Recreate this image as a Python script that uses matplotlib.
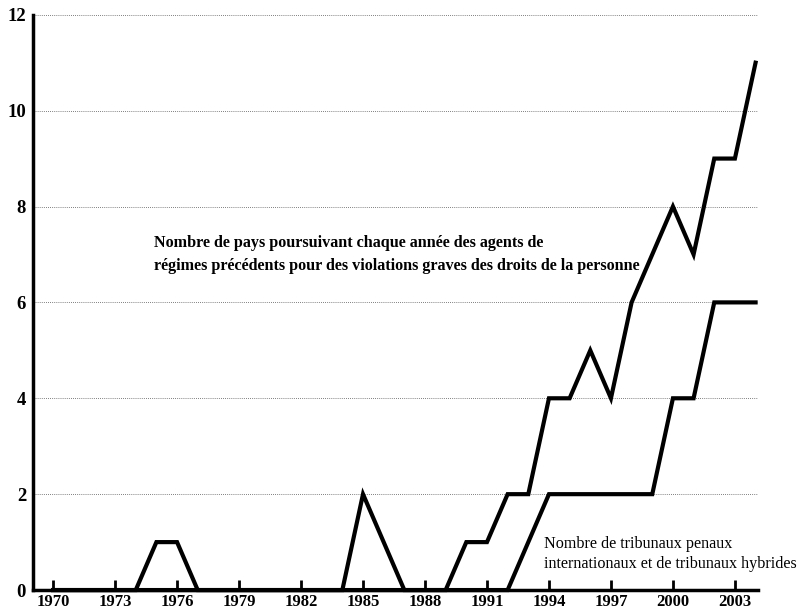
import matplotlib
matplotlib.use("Agg")
import matplotlib.pyplot as plt

# data
years = list(range(1970, 2005))
pays = [0, 0, 0, 0, 0, 1, 1, 0, 0, 0, 0, 0, 0, 0, 0, 2, 1, 0, 0, 0,
        1, 1, 2, 2, 4, 4, 5, 4, 6, 7, 8, 7, 9, 9, 11]
tribunaux = [0] * 22 + [0, 1, 2, 2, 2, 2, 2, 2, 4, 4, 6, 6, 6]
xticks = list(range(1970, 2004, 3))
yticks = [0, 2, 4, 6, 8, 10, 12]

label_pays = ("Nombre de pays poursuivant chaque année des agents de\n"
              "régimes précédents pour des violations graves des droits de la personne")
label_trib = ("Nombre de tribunaux penaux\n"
              "internationaux et de tribunaux hybrides")

plt.rcParams['font.family'] = ['Liberation Serif', 'DejaVu Serif']

fig = plt.figure(figsize=(8.06, 6.14), dpi=100)
ax = fig.add_axes([0.041, 0.039, 0.899, 0.937])

for y in yticks[1:]:
    ax.axhline(y, color='#555555', lw=0.6, ls=(0, (1, 1.5)), zorder=1)

ax.plot(years, pays, color='black', lw=3, solid_joinstyle='miter', clip_on=False, zorder=3)
ax.plot(years, tribunaux, color='black', lw=3, solid_joinstyle='miter', clip_on=False, zorder=3)

ax.set_xlim(1969.03, 2004.1)
ax.set_ylim(0, 12)
ax.set_xticks(xticks)
ax.set_yticks(yticks)
ax.tick_params(axis='x', direction='in', length=7, width=2, labelsize=12, pad=3)
ax.tick_params(axis='y', length=0, labelsize=13.5, pad=5)
for lab in ax.get_xticklabels() + ax.get_yticklabels():
    lab.set_fontweight('bold')

for s in ['top', 'right']:
    ax.spines[s].set_visible(False)
ax.spines['left'].set_linewidth(2.5)
ax.spines['bottom'].set_linewidth(2.5)

ax.text(1974.9, 7.4, label_pays, fontsize=11.6, fontweight='bold',
        va='top', ha='left', linespacing=1.55)
ax.text(1993.75, 1.12, label_trib, fontsize=11.6,
        va='top', ha='left', linespacing=1.3)

fig.savefig('out.png', dpi=100)
